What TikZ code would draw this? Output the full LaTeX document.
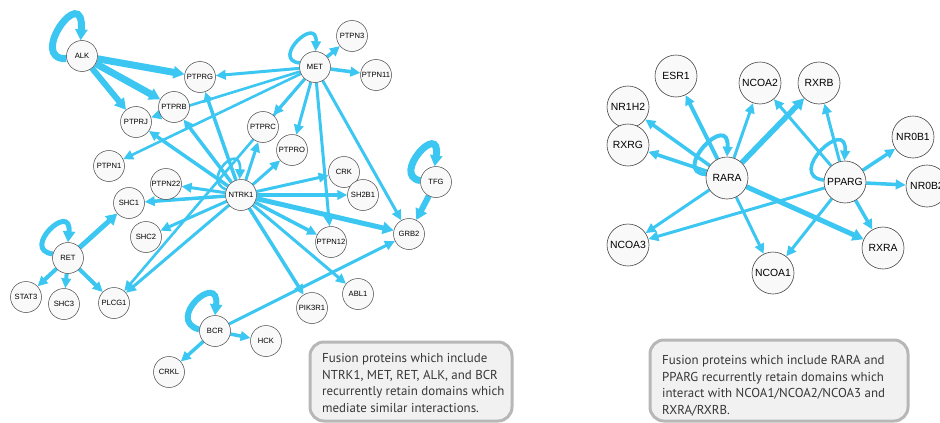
\documentclass[tikz,border=0pt]{standalone}
\usepackage{fontspec}
\setmainfont{Liberation Sans}
\newfontfamily\boxfont{PT Sans}
\usetikzlibrary{arrows.meta}
\pgfdeclarelayer{bg}
\pgfsetlayers{bg,main}
\definecolor{ecol}{RGB}{60,198,242}
\definecolor{nfill}{RGB}{249,249,249}
\definecolor{nline}{RGB}{70,70,70}
\definecolor{bfill}{RGB}{241,241,242}
\definecolor{bline}{RGB}{183,183,183}
\definecolor{btext}{RGB}{55,55,55}
\begin{document}
\begin{tikzpicture}[x=1pt,y=-1pt,
  pn/.style={circle,draw=nline,line width=0.5pt,fill=nfill,minimum size=31pt,inner sep=0pt,font=\fontsize{7.6}{8}\selectfont},
  rn/.style={circle,draw=nline,line width=0.6pt,fill=nfill,minimum size=42pt,inner sep=0pt,font=\fontsize{10.4}{11}\selectfont},
  ed/.style={draw=ecol,line width=#1,-{Triangle[length=10pt,width=9.5pt]}},
  ed/.default=3pt,
  edb/.style={draw=ecol,line width=#1,-{Triangle[length=11pt,width=12pt]}},
  edb/.default=6pt,
  boxframe/.style={draw=bline,line width=3pt,fill=bfill,rounded corners=14pt},
  boxtext/.style={anchor=north west,inner sep=0pt,align=left,text=btext,font=\boxfont\fontsize{12.9}{16.5}\selectfont}
]
\useasboundingbox (0,0) rectangle (940,423);

% ---------- left network nodes ----------
\node[pn] (ALK) at (82,56) {ALK};
\node[pn] (PTPRG) at (200,77) {PTPRG};
\node[pn] (PTPRB) at (174,107) {PTPRB};
\node[pn] (PTPRJ) at (136,122) {PTPRJ};
\node[pn] (MET) at (315,67) {MET};
\node[pn] (PTPN3) at (352,36) {PTPN3};
\node[pn] (PTPN11) at (376,75) {PTPN11};
\node[pn] (PTPRC) at (263,127) {PTPRC};
\node[pn] (PTPRO) at (292,150) {PTPRO};
\node[pn] (PTPN1) at (109,166) {PTPN1};
\node[pn] (PTPN22) at (166,184) {PTPN22};
\node[pn] (SHC1) at (129,203) {SHC1};
\node[pn] (NTRK1) at (241,195) {NTRK1};
\node[pn] (CRK) at (344,172) {CRK};
\node[pn] (SH2B1) at (363,195) {SH2B1};
\node[pn] (TFG) at (436,182) {TFG};
\node[pn] (GRB2) at (409,234) {GRB2};
\node[pn] (SHC2) at (146,237) {SHC2};
\node[pn] (RET) at (68,258) {RET};
\node[pn] (STAT3) at (26,297) {STAT3};
\node[pn] (SHC3) at (64,304) {SHC3};
\node[pn] (PLCG1) at (114,303) {PLCG1};
\node[pn] (PTPN12) at (331,242) {PTPN12};
\node[pn] (ABL1) at (358,294) {ABL1};
\node[pn] (PIK3R1) at (312,308) {PIK3R1};
\node[pn] (BCR) at (215,331) {BCR};
\node[pn] (HCK) at (266,341) {HCK};
\node[pn] (CRKL) at (169,372) {CRKL};

% ---------- right network nodes ----------
\node[rn] (ESR1) at (676,76) {ESR1};
\node[rn] (NCOA2) at (760,83) {NCOA2};
\node[rn] (RXRB) at (819,83) {RXRB};
\node[rn] (NR1H2) at (628,107) {NR1H2};
\node[rn] (RXRG) at (628,145) {RXRG};
\node[rn] (NR0B1) at (913,137) {NR0B1};
\node[rn] (RARA) at (727,178) {RARA};
\node[rn] (PPARG) at (845,182) {PPARG};
\node[rn] (NR0B2) at (927,186) {NR0B2};
\node[rn] (NCOA3) at (628,245) {NCOA3};
\node[rn] (NCOA1) at (773,273) {NCOA1};
\node[rn] (RXRA) at (883,248) {RXRA};

\begin{pgfonlayer}{bg}
% ALK
\draw[edb=7pt] (ALK.190) .. controls +(-40,1) and +(4,-60) .. (ALK.95);
\draw[edb=7pt] (ALK) -- (PTPRG);
\draw[edb=7pt] (ALK) -- (PTPRB);
\draw[edb=6pt] (ALK) -- (PTPRJ);
% MET
\draw[ed=3.5pt] (MET.165) .. controls +(-30,-3) and +(2,-37) .. (MET.88);
\draw[ed=3.5pt] (MET) -- (PTPN3);
\draw[ed=3.5pt] (MET) -- (PTPN11);
\draw[ed=3pt] (MET) -- (PTPRG);
\draw[ed=2.6pt] (MET) -- (PTPRJ);
\draw[ed=2.6pt] (MET) -- (PTPN1);
\draw[ed=3pt] (MET) -- (PTPRC);
\draw[ed=3pt] (MET) -- (PTPRO);
\draw[ed=3pt] (MET) -- (PTPN12);
\draw[ed=3pt] (MET) -- (GRB2);
\draw[ed=2.6pt] (MET) -- (PLCG1);
% NTRK1
\draw[ed=2.6pt] (NTRK1.160) .. controls +(-26,-10) and +(2,-40) .. (NTRK1.95);
\draw[ed=3.5pt] (NTRK1) -- (PTPRG);
\draw[ed=3.5pt] (NTRK1) -- (PTPRB);
\draw[ed=3.5pt] (NTRK1) -- (PTPRJ);
\draw[ed=3pt] (NTRK1) -- (PTPRC);
\draw[ed=3pt] (NTRK1) -- (PTPRO);
\draw[ed=3pt] (NTRK1) -- (PTPN22);
\draw[ed=3.5pt] (NTRK1) -- (SHC1);
\draw[ed=3pt] (NTRK1) -- (SHC2);
\draw[ed=3pt] (NTRK1) -- (PLCG1);
\draw[ed=3pt] (NTRK1) -- (CRK);
\draw[ed=4pt] (NTRK1) -- (SH2B1);
\draw[edb=5pt] (NTRK1) -- (GRB2);
\draw[ed=3.5pt] (NTRK1) -- (PTPN12);
\draw[ed=3pt] (NTRK1) -- (ABL1);
\draw[ed=3.5pt] (NTRK1) -- (PIK3R1);
% TFG
\draw[edb=7pt] (TFG.175) .. controls +(-30,-5) and +(7,-47) .. (TFG.95);
\draw[edb=6pt] (TFG) -- (GRB2);
% RET
\draw[edb=5pt] (RET.165) .. controls +(-33,-4) and +(4,-42) .. (RET.90);
\draw[edb=5pt] (RET) -- (SHC1);
\draw[ed=4pt] (RET) -- (STAT3);
\draw[ed=4pt] (RET) -- (SHC3);
\draw[ed=4pt] (RET) -- (PLCG1);
% BCR
\draw[edb=6pt] (BCR.175) .. controls +(-35,-10) and +(5,-45) .. (BCR.90);
\draw[ed=3.5pt] (BCR) -- (HCK);
\draw[ed=3.5pt] (BCR) -- (CRKL);
\draw[ed=3pt] (BCR) -- (GRB2);
% RARA
\draw[ed=4pt] (RARA.170) .. controls +(-36,-2) and +(3,-47) .. (RARA.90);
\draw[ed=4pt] (RARA) -- (ESR1);
\draw[ed=3.5pt] (RARA) -- (NR1H2);
\draw[ed=3.5pt] (RARA) -- (RXRG);
\draw[ed=3pt] (RARA) -- (NCOA2);
\draw[edb=5.5pt] (RARA) -- (RXRB);
\draw[ed=3pt] (RARA) -- (NCOA3);
\draw[ed=3pt] (RARA) -- (NCOA1);
\draw[edb=5pt] (RARA) -- (RXRA);
% PPARG
\draw[ed=3.5pt] (PPARG.175) .. controls +(-39,-5) and +(4,-46) .. (PPARG.92);
\draw[ed=3pt] (PPARG) -- (NCOA2);
\draw[ed=3pt] (PPARG) -- (RXRB);
\draw[ed=3.5pt] (PPARG) -- (NR0B1);
\draw[ed=3.5pt] (PPARG) -- (NR0B2);
\draw[ed=3.5pt] (PPARG) -- (RXRA);
\draw[ed=3pt] (PPARG) -- (NCOA1);
\draw[ed=3pt] (PPARG) -- (NCOA3);
\end{pgfonlayer}

% ---------- text boxes ----------
\draw[boxframe] (310,342) rectangle (512,421);
\node[boxtext] (lefttext) at (322,353.5) {Fusion proteins which include\\NTRK1, MET, RET, ALK, and BCR\\recurrently retain domains which\\mediate similar interactions.};
\draw[boxframe] (650,340) rectangle (908,421);
\node[boxtext] (righttext) at (662,355.5) {Fusion proteins which include RARA and\\PPARG recurrently retain domains which\\interact with NCOA1/NCOA2/NCOA3 and\\RXRA/RXRB.};
\end{tikzpicture}
\end{document}
